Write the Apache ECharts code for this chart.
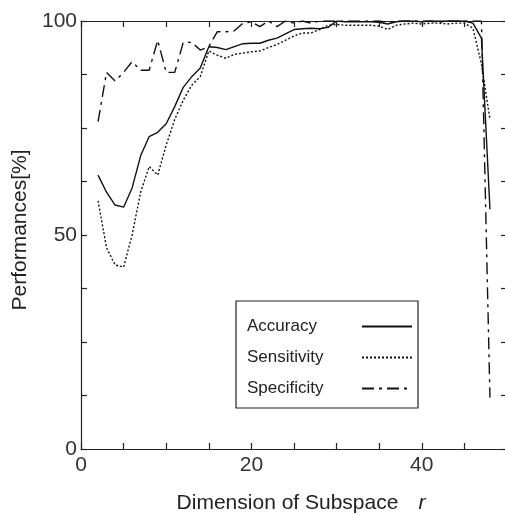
<!DOCTYPE html>
<html>
<head>
<meta charset="utf-8">
<script src="https://cdn.jsdelivr.net/npm/echarts@6/dist/echarts.min.js"></script>
<style>
  html, body { margin: 0; padding: 0; background: #fff; }
  #chart { width: 505px; height: 515px; }
</style>
</head>
<body>
<div id="chart"></div>
<script>
// 子空间维数 r 与性能曲线

const dims = [2, 3, 4, 5, 6, 7, 8, 9, 10, 11, 12, 13, 14, 15, 16, 17, 18, 19, 20, 21, 22, 23, 24, 25,
    26, 27, 28, 29, 30, 31, 32, 33, 34, 35, 36, 37, 38, 39, 40, 41, 42, 43, 44, 45, 46, 47, 48];

const accuracy = [64, 60, 57, 56.5, 61, 68.5, 73, 74, 76, 80, 84.5, 87, 89, 94, 93.8, 93.3, 94, 94.7, 94.8, 94.8,
    95.5, 96, 97, 98, 98.2, 98.3, 98.2, 98.5, 100, 99.8, 99.8, 99.8, 99.8, 99.7, 99.3, 99.8, 100, 100, 99.8,
    100, 100, 100, 100, 100, 99.5, 96, 56];

const sensitivity = [58, 47, 43, 42.5, 50, 60, 66, 64, 71, 77, 81.5, 85, 87, 93, 92, 91.3, 92.2, 92.5, 92.8, 93,
    93.8, 94.5, 95.5, 96.5, 97.2, 97.2, 98, 99, 99.2, 99, 99, 99, 99, 98.8, 98, 99, 99.3, 99.5, 99.3,
    99.5, 99.5, 99.3, 99.5, 99.5, 98.3, 90, 77];

const specificity = [76.5, 88, 86, 88, 90.5, 88.5, 88.5, 95.5, 88, 88, 95, 95, 93.2, 94, 97.5, 97.5, 97.7, 99.5,
    99.8, 98.7, 100, 98.7, 100, 99.5, 100, 99.5, 100, 100, 100, 100, 100, 100, 100, 100, 99.7, 100, 100,
    100, 100, 100, 99.7, 100, 100, 100, 100, 100, 12];

const xLabels = [0, 20, 40];
const yLabels = [0, 50, 100];

const FONT = 'Liberation Sans, Arial, sans-serif';

function pairs(ys) {
    return dims.map((d, i) => [d, ys[i]]);
}

const chartBox = document.getElementById('chart');
var perfChart = echarts.init(chartBox, null, { renderer: 'canvas' });
var perfOption;

const axisLine = { show: true, onZero: false, lineStyle: { color: '#222', width: 1.2 } };
const tickIn = { show: true, inside: true, length: 6, lineStyle: { color: '#222', width: 1.2 } };

perfOption = {
    animation: false,
    backgroundColor: '#fff',
    grid: { left: 81, top: 21, width: 426, height: 428, containLabel: false, outerBoundsMode: 'none' },
    legend: {
        orient: 'vertical',
        left: 236,
        top: 301,
        align: 'right',
        itemWidth: 50,
        itemHeight: 14,
        itemGap: 14,
        padding: [17, 5, 11, 11],
        borderColor: '#222',
        borderWidth: 1.2,
        borderRadius: 0,
        itemStyle: { color: 'rgba(0,0,0,0)', borderWidth: 0, opacity: 0 },
        data: ['Accuracy', 'Sensitivity', 'Specificity'],
        formatter: '{t|{name}}',
        textStyle: {
            rich: {
                t: { width: 110, align: 'left', fontSize: 17, color: '#222', fontFamily: FONT }
            }
        }
    },
    xAxis: [
        {
            type: 'value', min: 0, max: 50, interval: 5, position: 'bottom',
            axisLine: axisLine, axisTick: tickIn, splitLine: { show: false },
            axisLabel: {
                margin: 6, fontSize: 21, color: '#333', fontFamily: FONT,
                formatter: v => (xLabels.indexOf(v) >= 0 ? String(v) : '')
            },
            name: '{n|Dimension of Subspace}      {r|r}',
            nameLocation: 'middle',
            nameGap: 44,
            nameTextStyle: {
                padding: [0, 0, 0, 14],
                rich: {
                    n: { fontSize: 21, color: '#222', fontFamily: FONT },
                    r: { fontSize: 21, color: '#222', fontFamily: FONT, fontStyle: 'italic' }
                }
            }
        },
        {
            type: 'value', min: 0, max: 50, interval: 5, position: 'top',
            axisLine: axisLine, axisTick: tickIn, splitLine: { show: false },
            axisLabel: { show: false }
        }
    ],
    yAxis: [
        {
            type: 'value', min: 0, max: 100, interval: 12.5, position: 'left',
            axisLine: axisLine, axisTick: tickIn, splitLine: { show: false },
            axisLabel: {
                margin: 4, fontSize: 21, color: '#333', fontFamily: FONT,
                formatter: v => (yLabels.indexOf(v) >= 0 ? String(v) : '')
            },
            name: 'Performances[%]',
            nameLocation: 'middle',
            nameGap: 44,
            nameTextStyle: { fontSize: 21, color: '#222', fontFamily: FONT, padding: [0, 0, 0, 10] }
        },
        {
            type: 'value', min: 0, max: 100, interval: 12.5, position: 'right',
            axisLine: axisLine, axisTick: tickIn, splitLine: { show: false },
            axisLabel: { show: false }
        }
    ],
    series: [
        {
            name: 'Accuracy', type: 'line', data: pairs(accuracy),
            symbol: 'none', lineStyle: { color: '#111', width: 1.4, type: 'solid' },
            itemStyle: { color: '#111' }
        },
        {
            name: 'Sensitivity', type: 'line', data: pairs(sensitivity),
            symbol: 'none', lineStyle: { color: '#111', width: 1.4, type: [2, 2] },
            itemStyle: { color: '#111' }
        },
        {
            name: 'Specificity', type: 'line', data: pairs(specificity),
            symbol: 'none', lineStyle: { color: '#111', width: 1.4, type: [12, 5, 3, 5] },
            itemStyle: { color: '#111' }
        }
    ]
};

perfOption && perfChart.setOption(perfOption);
</script>
</body>
</html>
